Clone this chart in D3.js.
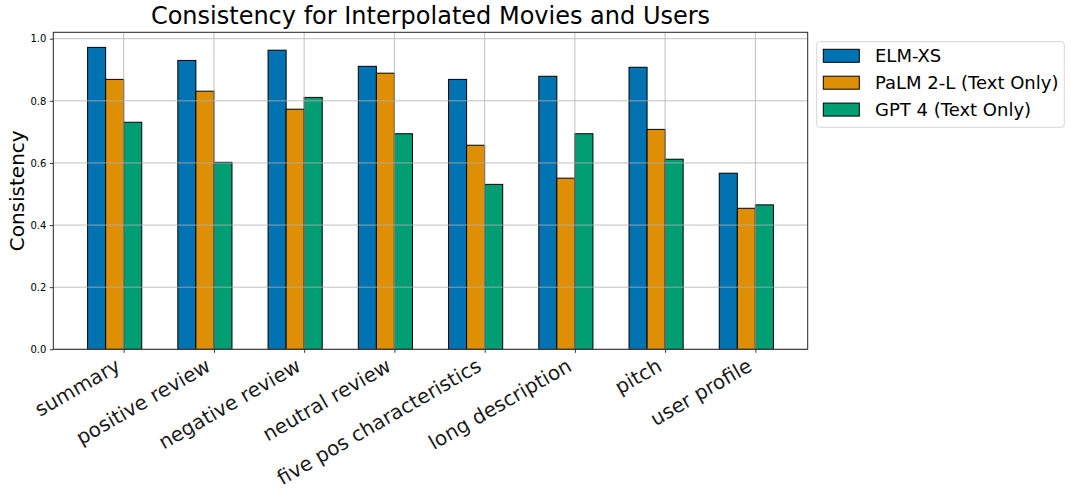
<!DOCTYPE html>
<html><head><meta charset="utf-8">
<script src="https://cdn.jsdelivr.net/npm/d3@7"></script>
<style>body{margin:0;background:#fff}svg{display:block}text{font-family:"DejaVu Sans",sans-serif}</style>
</head><body>
<svg id="c" width="1071" height="496"></svg>
<script>
const categories = ["summary","positive review","negative review","neutral review","five pos characteristics","long description","pitch","user profile"];
const seriesNames = ["ELM-XS","PaLM 2-L (Text Only)","GPT 4 (Text Only)"];
const elmXS = [0.972,0.930,0.963,0.911,0.869,0.879,0.908,0.567];
const palm2L = [0.869,0.831,0.773,0.889,0.657,0.551,0.708,0.454];
const gpt4 = [0.731,0.602,0.811,0.694,0.531,0.694,0.612,0.465];
const yTicks = [0,0.2,0.4,0.6,0.8,1.0];
const colors = ["#0173B2","#DE8F05","#029E73"];
const series = [elmXS, palm2L, gpt4];

const svg = d3.select("#c");
const L = 53.3, R = 807.7, T = 32.3, B = 349.3;
const barW = 0.2;
const x = d3.scaleLinear().domain([-0.78, 7.58]).range([L, R]);
const y = d3.scaleLinear().domain([0, 1.0206]).range([B, T]);

// bars
series.forEach((vals, s) => {
  svg.append("g").selectAll("rect").data(vals).join("rect")
    .attr("x", (d, i) => x(i + (s - 2) * barW))
    .attr("width", x(barW) - x(0))
    .attr("y", d => y(d))
    .attr("height", d => y(0) - y(d))
    .attr("fill", colors[s])
    .attr("stroke", "#000").attr("stroke-width", 1);
});

// grid (drawn above bars)
const grid = svg.append("g").attr("stroke", "#b0b0b0").attr("stroke-width", 0.8);
grid.selectAll(".gx").data(categories).join("line")
  .attr("x1", (d, i) => x(i)).attr("x2", (d, i) => x(i))
  .attr("y1", T).attr("y2", B);
grid.selectAll(".gy").data(yTicks).join("line")
  .attr("x1", L).attr("x2", R).attr("y1", d => y(d)).attr("y2", d => y(d));

// y axis
const yAxis = d3.axisLeft(y).tickValues(yTicks).tickFormat(d3.format(".1f")).tickSize(3.5).tickPadding(3.5);
const gy = svg.append("g").attr("transform", `translate(${L},0)`).call(yAxis);
gy.select(".domain").remove();
gy.selectAll("text").attr("font-size", 10).attr("fill", "#000").style("font-family", "DejaVu Sans");
gy.selectAll("line").attr("stroke", "#000").attr("stroke-width", 0.8);

// x axis
const xAxis = d3.axisBottom(x).tickValues(d3.range(categories.length)).tickFormat(i => categories[i]).tickSize(3.5);
const gx = svg.append("g").attr("transform", `translate(0,${B})`).call(xAxis);
gx.select(".domain").remove();
gx.selectAll("line").attr("stroke", "#000").attr("stroke-width", 0.8);
gx.selectAll("text")
  .attr("font-size", 20).attr("fill", "#1a1a1a").style("font-family", "DejaVu Sans")
  .attr("text-anchor", "end")
  .attr("x", null).attr("y", null).attr("dy", null)
  .attr("transform", "translate(-2.4,20.5) rotate(-30)");

// frame
svg.append("rect").attr("x", L).attr("y", T).attr("width", R - L).attr("height", B - T)
  .attr("fill", "none").attr("stroke", "#262626").attr("stroke-width", 1);

// title
svg.append("text").attr("x", (L + R) / 2).attr("y", 24).attr("text-anchor", "middle")
  .attr("font-size", 24).attr("fill", "#000").text("Consistency for Interpolated Movies and Users");

// y label
svg.append("text").attr("transform", `translate(24,${(T + B) / 2}) rotate(-90)`)
  .attr("text-anchor", "middle").attr("font-size", 20).attr("fill", "#000").text("Consistency");

// legend
const lg = svg.append("g");
lg.append("rect").attr("x", 816.7).attr("y", 41.7).attr("width", 247.6).attr("height", 85.6)
  .attr("rx", 3).attr("fill", "#fff").attr("fill-opacity", 0.8).attr("stroke", "#d6d6d6").attr("stroke-width", 1);
seriesNames.forEach((n, i) => {
  const cy = 55.8 + i * 26.9;
  lg.append("rect").attr("x", 823.3).attr("y", cy - 6.5).attr("width", 36).attr("height", 13)
    .attr("fill", colors[i]).attr("stroke", "#000").attr("stroke-width", 1);
  lg.append("text").attr("x", 875).attr("y", cy + 6.5).attr("font-size", 18).attr("fill", "#000").text(n);
});
</script>
</body></html>
